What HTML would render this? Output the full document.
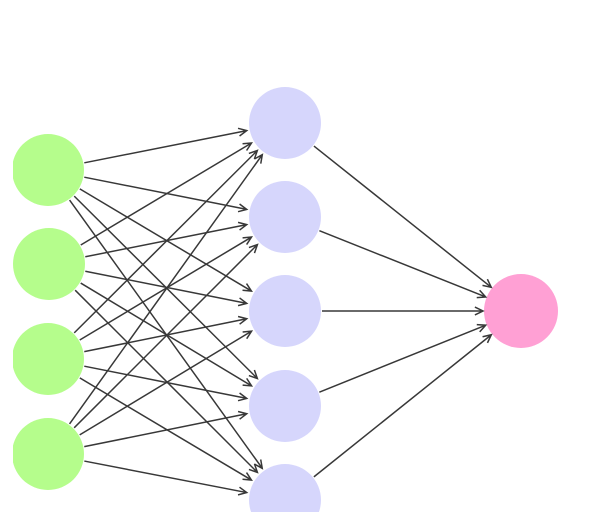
<!DOCTYPE html>
<html><head><meta charset="utf-8"><style>
html,body{margin:0;padding:0;background:#fff;width:600px;height:519px;overflow:hidden}
svg{display:block}
</style></head><body>
<svg id="s" width="600" height="519" viewBox="0 0 600 519" xmlns="http://www.w3.org/2000/svg">
<defs><clipPath id="c"><rect x="13" y="0" width="587" height="512"/></clipPath></defs>
<g id="nodes" clip-path="url(#c)">
<circle cx="48" cy="170" r="36" fill="#b5fd8c"/>
<circle cx="49" cy="264" r="36" fill="#b5fd8c"/>
<circle cx="48" cy="359" r="36" fill="#b5fd8c"/>
<circle cx="48" cy="454" r="36" fill="#b5fd8c"/>
<circle cx="285" cy="123" r="36" fill="#d6d6fc"/>
<circle cx="285" cy="217" r="36" fill="#d6d6fc"/>
<circle cx="285" cy="311" r="36" fill="#d6d6fc"/>
<circle cx="285" cy="406" r="36" fill="#d6d6fc"/>
<circle cx="285" cy="500" r="36" fill="#d6d6fc"/>
<circle cx="521" cy="311" r="37" fill="#ffa0d4"/>
</g>
<g id="e" stroke="#383838" stroke-width="1.5" fill="none"></g>
</svg>
<script>
var ns="http://www.w3.org/2000/svg",g=document.getElementById("e");
function arrow(x1,y1,x2,y2,r1,r2){
 var dx=x2-x1,dy=y2-y1,L=Math.hypot(dx,dy),ux=dx/L,uy=dy/L;
 var ax=x1+ux*r1,ay=y1+uy*r1,bx=x2-ux*r2,by=y2-uy*r2;
 var p=document.createElementNS(ns,"path");
 var a=0.45,h=9;
 var c=Math.cos(a),s=Math.sin(a);
 var l1x=bx-h*(ux*c-uy*s),l1y=by-h*(uy*c+ux*s);
 var l2x=bx-h*(ux*c+uy*s),l2y=by-h*(uy*c-ux*s);
 p.setAttribute("d","M"+ax+","+ay+"L"+bx+","+by+"M"+l1x+","+l1y+"L"+bx+","+by+"L"+l2x+","+l2y);
 g.appendChild(p);
}
var I=[[48,170],[49,264],[48,359],[48,454]],H=[[285,123],[285,217],[285,311],[285,406],[285,500]];
I.forEach(function(a){H.forEach(function(b){arrow(a[0],a[1],b[0],b[1],37,39);});});
H.forEach(function(b){arrow(b[0],b[1],521,311,37,38);});
</script>
</body></html>
